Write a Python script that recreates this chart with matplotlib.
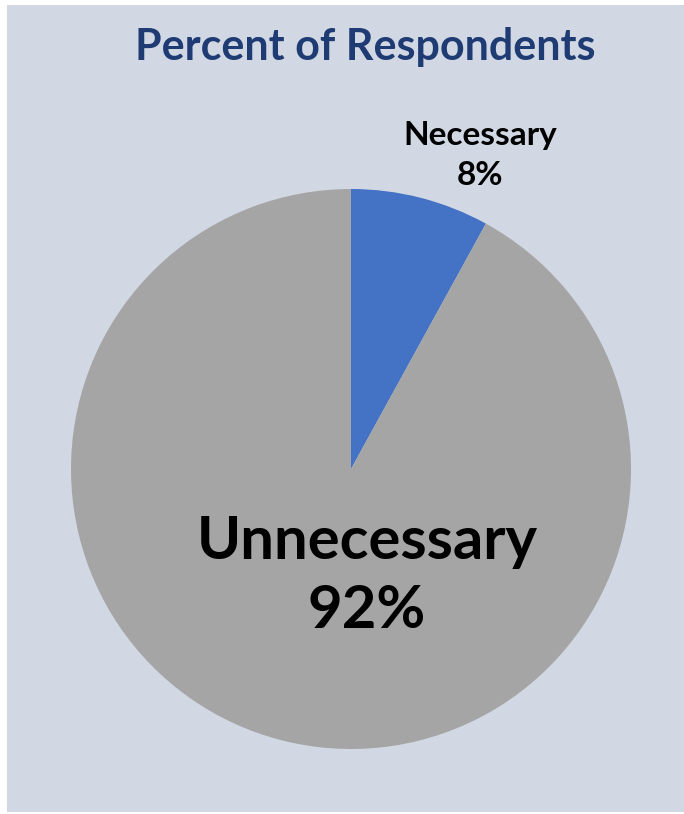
import matplotlib.pyplot as plt
from matplotlib.patches import Rectangle

# Survey answers
categories = ['Necessary', 'Unnecessary']
percents = [8, 92]
colors = ['#4472C4', '#A5A5A5']

fig = plt.figure(figsize=(6.84, 8.14), dpi=100)
fig.patch.set_facecolor('white')

# Shaded chart panel
fig.patches.append(Rectangle((7 / 684, 2 / 814), 1 - 7 / 684, 807 / 814,
                             transform=fig.transFigure, facecolor='#D1D8E3',
                             edgecolor='none', zorder=-1))

fig.text(365 / 684, 1 - 47 / 814, 'Percent of Respondents', ha='center', va='center',
         fontsize=31, fontweight='bold', color='#1F3B73', family='Lato')

ax = fig.add_axes([71 / 684, 65 / 814, 560 / 684, 560 / 814])
ax.pie(percents, colors=colors, startangle=90, counterclock=False,
       wedgeprops=dict(linewidth=0))
ax.set_xlim(-1, 1)
ax.set_ylim(-1, 1)
ax.set_aspect('equal')
ax.axis('off')

# Data labels
ax.text(0.46, 1.121, f'{categories[0]}\n{percents[0]}%', ha='center', va='center',
        fontsize=24, fontweight='bold', family='Lato', linespacing=1.45)
ax.text(0.057, -0.385, f'{categories[1]}\n{percents[1]}%', ha='center', va='center',
        fontsize=43, fontweight='bold', family='Lato', linespacing=1.35)

plt.savefig('out.png', dpi=100)
